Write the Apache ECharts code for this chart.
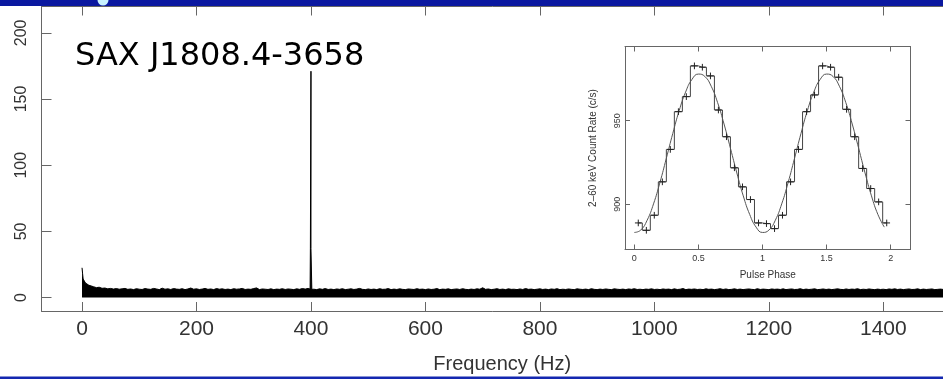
<!DOCTYPE html>
<html><head><meta charset="utf-8">
<script src="https://cdn.jsdelivr.net/npm/echarts@6/dist/echarts.min.js"></script>
<style>html,body{margin:0;padding:0;background:#fff}#c{width:943px;height:379px}</style>
</head><body><div id="c"></div>
<script>
// ---- main power spectrum ----
const titleText = 'SAX J1808.4-3658';
const xTicks = [0, 200, 400, 600, 800, 1000, 1200, 1400];
const yTicks = [0, 50, 100, 150, 200];
const lowFreq  = [0, 1, 2, 4, 6, 9, 12, 15];
const lowPower = [22.5, 18, 14, 12.5, 11, 10, 9.3, 9];
const noiseStart = 20, noiseStep = 5;
const noisePower = [
 8.2,7.5,7.8,7.0,7.2,6.6,6.9,6.4,6.8,6.3,6.6,6.9,6.2,6.5,6.0,6.7,6.3,6.1,6.8,6.4,
 6.2,6.9,6.5,6.0,7.1,6.3,6.6,6.1,6.8,6.4,6.2,6.7,6.0,6.5,7.2,6.3,6.6,6.1,6.4,6.9,
 6.2,6.5,6.0,6.8,6.3,6.6,6.1,6.4,6.0,6.7,6.3,6.5,6.9,6.1,6.4,6.2,6.8,7.3,6.0,6.5,
 6.3,6.1,6.6,6.0,6.4,6.2,6.7,6.1,6.5,6.3,6.0,6.6,6.2,6.8,6.4,6.9,
 6.5,6.3,6.0,6.6,6.2,6.8,6.1,6.4,6.0,6.5,6.2,6.7,6.0,6.3,6.6,6.1,6.4,6.9,6.2,6.0,
 6.5,6.1,6.4,6.0,6.7,6.2,6.3,6.8,6.0,6.4,6.1,6.6,6.2,6.0,6.5,6.3,6.1,6.7,6.2,6.4,
 6.0,6.5,6.1,6.3,6.8,6.0,6.4,6.2,6.6,6.0,6.3,6.5,6.1,6.7,6.2,6.0,6.4,6.1,6.6,6.3,
 7.4,6.2,6.5,6.0,6.3,6.7,6.1,6.4,6.0,6.6,6.2,6.3,6.0,6.5,6.1,6.8,6.2,6.4,6.0,6.3,
 6.6,6.1,6.4,6.0,6.5,6.2,6.7,6.0,6.3,6.1,6.5,6.2,6.0,6.6,6.3,6.1,6.4,6.0,6.7,6.2,
 6.0,6.4,6.1,6.5,6.2,6.0,6.6,6.3,6.1,6.4,6.0,6.5,6.2,6.7,6.1,6.3,6.0,6.4,6.2,6.6,
 6.1,6.3,6.0,6.5,6.2,6.4,6.0,6.6,6.1,6.3,6.8,6.0,6.4,6.2,6.5,6.1,6.3,6.0,6.6,6.2,
 6.4,6.0,6.3,6.7,6.1,6.5,6.0,6.2,6.6,6.1,6.4,6.0,6.3,6.5,6.2,6.0,6.7,6.1,6.4,6.2,
 6.0,6.5,6.2,6.4,6.1,6.6,6.0,6.3,6.5,6.1,6.2,6.7,6.0,6.4,6.1,6.3,6.6,6.0,6.2,6.5,
 6.1,6.4,6.0,6.3,6.6,6.2,6.0,6.5,6.1,6.4,6.2,6.7,6.0,6.3,6.1,6.5,6.2,6.0,6.4,6.1,
 6.3,6.0,6.5,6.2,6.6,6.1,6.4,6.0,6.3,6.5,6.1,6.2,6.6,6.0,6.4,6.1,6.3,6.5,6.0,6.2,6.4,6.1
];
const peakFreq  = [398.5, 399, 400, 400, 400, 401, 401.5];
const peakPower = [6.4, 37, 37, 171, 37, 37, 6.2];

// ---- inset pulse profile ----
const phaseCenters = [0.031,0.094,0.156,0.219,0.281,0.344,0.406,0.469,0.531,0.594,0.656,0.719,0.781,0.844,0.906,0.969,
                      1.031,1.094,1.156,1.219,1.281,1.344,1.406,1.469,1.531,1.594,1.656,1.719,1.781,1.844,1.906,1.969];
const countRate = [888.8,884.4,893.4,913.4,932.8,955.4,964.4,982.8,982.0,976.8,956.4,940.4,921.8,910.4,902.8,888.8,
                   888.4,885.4,893.4,913.4,932.8,955.4,965.4,982.8,982.0,976.0,956.8,940.4,921.4,909.4,901.4,888.8];
const rateErr = [2,2,2,2,2,2,2,2,2,2,2,2,2,2,2,2,2,2,2,2,2,2,2,2,2,2,2,2,2,2,2,2];
const phaseErr = 0.026;
const fitPhase = [0,0.05,0.1,0.15,0.2,0.25,0.3,0.35,0.4,0.45,0.5,0.55,0.6,0.65,0.7,0.75,0.8,0.85,0.9,0.95,
                  1,1.05,1.1,1.15,1.2,1.25,1.3,1.35,1.4,1.45,1.5,1.55,1.6,1.65,1.7,1.75,1.8,1.85,1.9,1.95];
const fitRate = [883.1,884.5,890.4,900.2,913.0,927.5,942.3,956.0,967.1,974.7,977.9,976.5,970.6,960.8,948.0,933.5,918.7,905.0,893.9,886.3,
                 883.1,884.5,890.4,900.2,913.0,927.5,942.3,956.0,967.1,974.7,977.9,976.5,970.6,960.8,948.0,933.5,918.7,905.0,893.9,886.3];
const insetXTicks = [0, 0.5, 1, 1.5, 2];
const insetYTicks = [900, 950];
const insetXName = 'Pulse Phase';
const insetYName = '2–60 keV Count Rate (c/s)';
const mainXName = 'Frequency (Hz)';

// build spectrum points
let spec = [];
lowFreq.forEach((f, i) => spec.push([f, lowPower[i]]));
noisePower.forEach((p, i) => {
  const f = noiseStart + i * noiseStep;
  if (Math.abs(f - 400) > 2.5) spec.push([f, p]);
});
peakFreq.forEach((f, i) => spec.push([f, peakPower[i]]));
spec.sort((a, b) => a[0] - b[0]);

const profile = phaseCenters.map((p, i) => [p, countRate[i]]);
const errData = phaseCenters.map((p, i) => [p, countRate[i], phaseErr, rateErr[i]]);
const fitData = fitPhase.map((p, i) => [p, fitRate[i]]);

const axisGrey = '#666';
const chart = echarts.init(document.getElementById('c'), null, {renderer: 'canvas'});
chart.setOption({
  animation: false,
  backgroundColor: '#fff',
  grid: [
    {left: 41.5, right: 0, top: 6.5, bottom: 66.5},
    {left: 625, right: 32.5, top: 46.5, bottom: 129.5, show: true, backgroundColor: '#fff', borderWidth: 0}
  ],
  xAxis: [
    {gridIndex: 0, type: 'value', min: -70.8, max: 1504.3, position: 'bottom',
     name: mainXName, nameLocation: 'middle', nameGap: 43,
     nameTextStyle: {fontFamily: 'Liberation Sans', fontSize: 20, color: '#333', padding: [0, 0, 0, 20]},
     axisLine: {show: true, onZero: false, lineStyle: {color: axisGrey, width: 1}},
     axisTick: {show: true, inside: true, length: 9, customValues: xTicks, lineStyle: {color: axisGrey}},
     axisLabel: {show: true, customValues: xTicks, margin: 8, fontFamily: 'Liberation Sans', fontSize: 21, color: '#333', formatter: v => String(v)},
     splitLine: {show: false}},
    {gridIndex: 0, type: 'value', min: -70.8, max: 1504.3, position: 'top',
     axisLine: {show: true, onZero: false, lineStyle: {color: axisGrey, width: 1}},
     axisTick: {show: true, inside: true, length: 9, customValues: xTicks, lineStyle: {color: axisGrey}},
     axisLabel: {show: false}, splitLine: {show: false}},
    {gridIndex: 1, type: 'value', min: -0.0725, max: 2.1545, position: 'bottom',
     name: insetXName, nameLocation: 'middle', nameGap: 21,
     nameTextStyle: {fontFamily: 'Liberation Sans', fontSize: 10, color: '#333'},
     axisLine: {show: true, onZero: false, lineStyle: {color: axisGrey, width: 1}},
     axisTick: {show: true, inside: true, length: 5, customValues: insetXTicks, lineStyle: {color: axisGrey}},
     axisLabel: {show: true, customValues: insetXTicks, margin: 5, fontFamily: 'Liberation Sans', fontSize: 9, color: '#333', formatter: v => String(v)},
     splitLine: {show: false}},
    {gridIndex: 1, type: 'value', min: -0.0725, max: 2.1545, position: 'top',
     axisLine: {show: true, onZero: false, lineStyle: {color: axisGrey, width: 1}},
     axisTick: {show: true, inside: true, length: 5, customValues: insetXTicks, lineStyle: {color: axisGrey}},
     axisLabel: {show: false}, splitLine: {show: false}}
  ],
  yAxis: [
    {gridIndex: 0, type: 'value', min: -10.15, max: 219.9, position: 'left',
     axisLine: {show: true, onZero: false, lineStyle: {color: axisGrey, width: 1}},
     axisTick: {show: true, inside: true, length: 10, customValues: yTicks, lineStyle: {color: axisGrey}},
     axisLabel: {show: true, customValues: yTicks, rotate: 90, margin: 12, fontFamily: 'Liberation Sans', fontSize: 16, color: '#333'},
     splitLine: {show: false}},
    {gridIndex: 1, type: 'value', min: 872.9, max: 994.4, position: 'left',
     name: insetYName, nameLocation: 'middle', nameGap: 27,
     nameTextStyle: {fontFamily: 'Liberation Sans', fontSize: 10, color: '#333'},
     axisLine: {show: true, onZero: false, lineStyle: {color: axisGrey, width: 1}},
     axisTick: {show: true, inside: true, length: 5, customValues: insetYTicks, lineStyle: {color: axisGrey}},
     axisLabel: {show: true, customValues: insetYTicks, rotate: 90, margin: 3, fontFamily: 'Liberation Sans', fontSize: 9, color: '#333'},
     splitLine: {show: false}},
    {gridIndex: 1, type: 'value', min: 872.9, max: 994.4, position: 'right',
     axisLine: {show: true, onZero: false, lineStyle: {color: axisGrey, width: 1}},
     axisTick: {show: true, inside: true, length: 5, customValues: insetYTicks, lineStyle: {color: axisGrey}},
     axisLabel: {show: false}, splitLine: {show: false}}
  ],
  series: [
    {type: 'line', xAxisIndex: 0, yAxisIndex: 0, data: spec, symbol: 'none', sampling: null,
     lineStyle: {color: '#000', width: 1, join: 'bevel'}, areaStyle: {color: '#000', opacity: 1}, z: 3},
    {type: 'line', xAxisIndex: 2, yAxisIndex: 1, data: profile, step: 'middle', symbol: 'none',
     lineStyle: {color: '#444', width: 1}, z: 4},
    {type: 'line', xAxisIndex: 2, yAxisIndex: 1, data: fitData, smooth: true, symbol: 'none',
     lineStyle: {color: '#555', width: 1}, z: 4},
    {type: 'custom', xAxisIndex: 2, yAxisIndex: 1, data: errData, z: 5,
     renderItem: function (params, api) {
       const x = api.value(0), y = api.value(1), ex = api.value(2), ey = api.value(3);
       const c = api.coord([x, y]);
       const l = api.coord([x - ex, y]);
       const r = api.coord([x + ex, y]);
       const t = api.coord([x, y + ey]);
       const b = api.coord([x, y - ey]);
       const st = {stroke: '#222', lineWidth: 1};
       return {type: 'group', children: [
         {type: 'line', shape: {x1: l[0], y1: c[1], x2: r[0], y2: c[1]}, style: st},
         {type: 'line', shape: {x1: c[0], y1: t[1], x2: c[0], y2: b[1]}, style: st}
       ]};
     }}
  ],
  graphic: [
    {type: 'rect', shape: {x: 0, y: 0, width: 943, height: 6}, style: {fill: '#0a18a0'}, z: 100, silent: true},
    {type: 'circle', shape: {cx: 103, cy: 0, r: 5.5}, style: {fill: '#c8f2ff'}, z: 101, silent: true},
    {type: 'rect', shape: {x: 0, y: 376.5, width: 943, height: 2.5}, style: {fill: '#1428b0'}, z: 100, silent: true},
    {type: 'text', x: 75, y: 57, z: 100, silent: true,
     style: {text: titleText, font: '32px "DejaVu Sans"', fill: '#000', verticalAlign: 'middle', align: 'left'}}
  ]
});
</script></body></html>
